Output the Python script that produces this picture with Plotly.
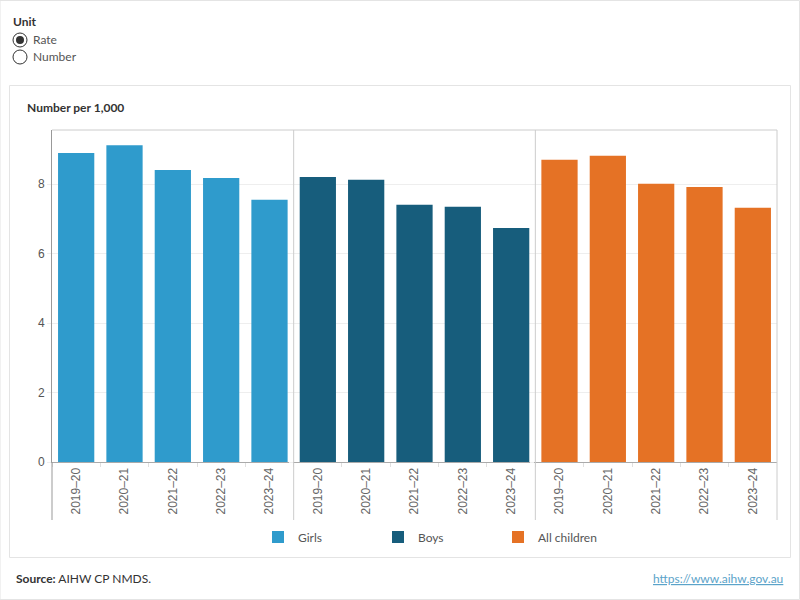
import plotly.graph_objects as go
from plotly.subplots import make_subplots

years = ["2019–20", "2020–21", "2021–22", "2022–23", "2023–24"]
groups = ["Girls", "Boys", "All children"]
girls = [8.9, 9.12, 8.41, 8.18, 7.55]
boys = [8.21, 8.13, 7.41, 7.35, 6.74]
all_children = [8.70, 8.82, 8.01, 7.92, 7.32]
colors = ["#2f9bcc", "#175d7c", "#e57225"]
y_ticks = [0, 2, 4, 6, 8]

series = [girls, boys, all_children]

fig = make_subplots(rows=1, cols=3, shared_yaxes=True, horizontal_spacing=0)
for i, (name, vals, col) in enumerate(zip(groups, series, colors)):
    fig.add_trace(go.Bar(x=years, y=vals, name=name, marker_color=col,
                         marker_line_width=0, hoverinfo="x+y"), row=1, col=i + 1)
    fig.update_xaxes(row=1, col=i + 1, tickangle=-90, showgrid=False,
                     showline=True, linecolor="#aaaaaa", linewidth=1,
                     ticks="outside", tickson="boundaries", ticklen=4, tickcolor="#e0e0e0",
                     tickfont=dict(family="Liberation Sans, Arial", size=12, color="#666666"),
                     fixedrange=True)

fig.update_yaxes(range=[0, 9.56], tickvals=y_ticks, showgrid=True, gridcolor="#eeeeee",
                 zeroline=False, ticks="outside", ticklen=4, tickcolor="#eeeeee",
                 tickfont=dict(family="Liberation Sans, Arial", size=12, color="#555555"),
                 fixedrange=True)
fig.update_yaxes(row=1, col=1, showline=True, linecolor="#999999", linewidth=1)

W, H = 725, 332
shapes = []
# outer card border
shapes.append(dict(type="rect", xref="paper", yref="paper", x0=-52/W, x1=1 + 22.5/W,
                   y0=-137.5/H, y1=1 + 129.5/H, line=dict(color="#e4e4e4", width=1)))
# inner panel border
shapes.append(dict(type="rect", xref="paper", yref="paper", x0=-42.5/W, x1=1 + 13.5/W,
                   y0=-95.5/H, y1=1 + 44.5/H, line=dict(color="#e4e4e4", width=1)))
# plot border top/right
shapes.append(dict(type="line", xref="paper", yref="paper", x0=0, x1=1, y0=1, y1=1,
                   line=dict(color="#cccccc", width=1)))
shapes.append(dict(type="line", xref="paper", yref="paper", x0=1, x1=1, y0=0, y1=1,
                   line=dict(color="#cccccc", width=1)))
# panel dividers extending through label area
for xp in [0, 1/3, 2/3]:
    shapes.append(dict(type="line", xref="paper", yref="paper", x0=xp, x1=xp,
                       y0=-58/H, y1=1 if xp > 0 else 0,
                       line=dict(color="#cccccc" if xp > 0 else "#999999", width=1)))
shapes.append(dict(type="line", xref="paper", yref="paper", x0=1, x1=1, y0=-58/H, y1=0,
                   line=dict(color="#cccccc", width=1)))
# radio buttons
shapes.append(dict(type="circle", xref="paper", yref="paper",
                   x0=-39/W, x1=-25/W, y0=1 + 83/H, y1=1 + 97/H,
                   line=dict(color="#333333", width=1), fillcolor="white"))
shapes.append(dict(type="circle", xref="paper", yref="paper",
                   x0=-36/W, x1=-28/W, y0=1 + 86/H, y1=1 + 94/H,
                   line=dict(color="#333333", width=0), fillcolor="#333333"))
shapes.append(dict(type="circle", xref="paper", yref="paper",
                   x0=-39/W, x1=-25/W, y0=1 + 66/H, y1=1 + 80/H,
                   line=dict(color="#333333", width=1), fillcolor="white"))

txt = "Lato, Noto Sans, sans-serif"
annotations = [
    dict(text="<b>Unit</b>", x=-41/W, y=1 + 108/H, xref="paper", yref="paper",
         xanchor="left", yanchor="middle", showarrow=False,
         font=dict(family=txt, size=12, color="#333333")),
    dict(text="Rate", x=-21/W, y=1 + 90/H, xref="paper", yref="paper",
         xanchor="left", yanchor="middle", showarrow=False,
         font=dict(family=txt, size=12, color="#555555")),
    dict(text="Number", x=-21/W, y=1 + 73/H, xref="paper", yref="paper",
         xanchor="left", yanchor="middle", showarrow=False,
         font=dict(family=txt, size=12, color="#555555")),
    dict(text="<b>Number per 1,000</b>", x=-27/W, y=1 + 23/H, xref="paper", yref="paper",
         xanchor="left", yanchor="middle", showarrow=False,
         font=dict(family=txt, size=12, color="#333333")),
    dict(text="<b>Source:</b> AIHW CP NMDS.", x=-38/W, y=-116/H, xref="paper", yref="paper",
         xanchor="left", yanchor="middle", showarrow=False,
         font=dict(family=txt, size=12, color="#333333")),
    dict(text="<a href='https://www.aihw.gov.au' style='color:#5ba3c9'><u>https://www.aihw.gov.au</u></a>",
         x=1 + 8/W, y=-116/H, xref="paper", yref="paper",
         xanchor="right", yanchor="middle", showarrow=False,
         font=dict(family=txt, size=12, color="#5ba3c9")),
]

fig.update_layout(
    width=800, height=600,
    margin=dict(l=52, r=23, t=130, b=138),
    paper_bgcolor="white", plot_bgcolor="white",
    bargap=0.25,
    showlegend=True,
    legend=dict(orientation="h", x=(258 - 52) / W, xanchor="left", y=-75/H, yanchor="middle",
                entrywidth=75, entrywidthmode="pixels",
                font=dict(family=txt, size=12, color="#555555"), itemclick=False, itemdoubleclick=False),
    shapes=shapes,
    annotations=annotations,
    font=dict(family=txt),
)

fig.write_html("out.html")
